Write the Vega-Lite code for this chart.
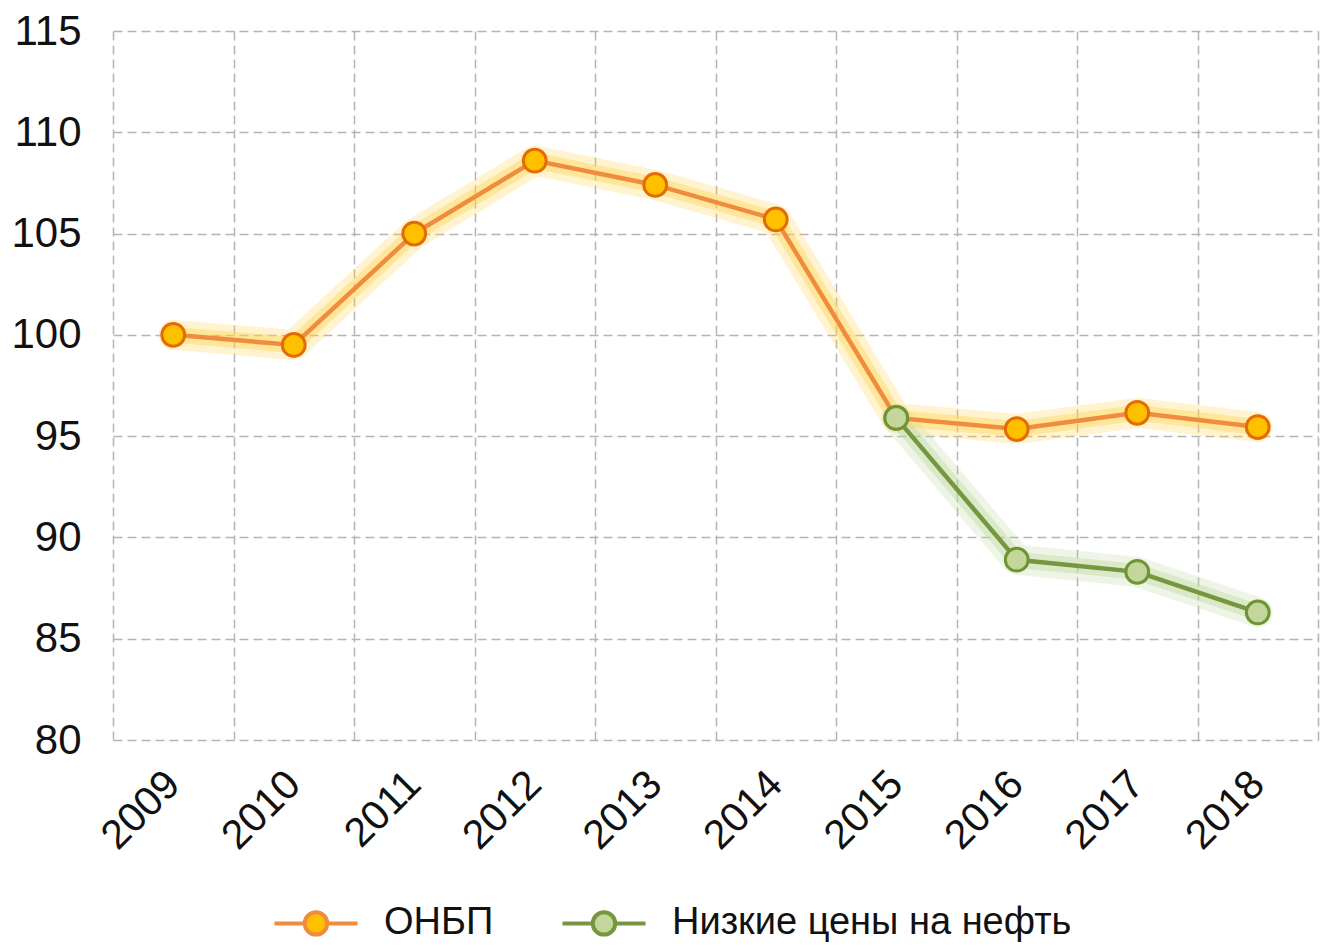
{
  "$schema": "https://vega.github.io/schema/vega-lite/v6.json",
  "autosize": "none",
  "width": 1205,
  "height": 709,
  "padding": {"left": 113, "top": 31, "right": 4, "bottom": 207},
  "background": "white",
  "config": {
    "view": {"stroke": null},
    "font": "Liberation Sans",
    "axis": {"labelFont": "Liberation Sans", "labelColor": "#111111", "gridColor": "#b5b5b5", "gridDash": [9, 5], "gridWidth": 1.5, "domain": false, "ticks": false}
  },
  "data": {
    "values": [
      {"year": "2009", "series": "ОНБП", "value": 100.0},
      {"year": "2010", "series": "ОНБП", "value": 99.5},
      {"year": "2011", "series": "ОНБП", "value": 105.0},
      {"year": "2012", "series": "ОНБП", "value": 108.6},
      {"year": "2013", "series": "ОНБП", "value": 107.4},
      {"year": "2014", "series": "ОНБП", "value": 105.7},
      {"year": "2015", "series": "ОНБП", "value": 95.9},
      {"year": "2016", "series": "ОНБП", "value": 95.35},
      {"year": "2017", "series": "ОНБП", "value": 96.15},
      {"year": "2018", "series": "ОНБП", "value": 95.45},
      {"year": "2015", "series": "Низкие цены на нефть", "value": 95.9},
      {"year": "2016", "series": "Низкие цены на нефть", "value": 88.9},
      {"year": "2017", "series": "Низкие цены на нефть", "value": 88.3},
      {"year": "2018", "series": "Низкие цены на нефть", "value": 86.3}
    ]
  },
  "encoding": {
    "x": {
      "field": "year", "type": "ordinal", "title": null,
      "scale": {"paddingInner": 0, "paddingOuter": 0},
      "axis": {"labelAngle": -45, "labelFontSize": 41, "labelPadding": 38, "tickBand": "extent", "grid": true, "labelAlign": "right", "labelBaseline": "middle"}
    },
    "y": {
      "field": "value", "type": "quantitative", "title": null,
      "scale": {"domain": [80, 115], "nice": false, "zero": false},
      "axis": {"values": [80, 85, 90, 95, 100, 105, 110, 115], "labelFontSize": 42, "labelPadding": 32, "grid": true}
    }
  },
  "layer": [
    {
      "mark": {"type": "line", "strokeWidth": 30, "opacity": 0.25, "strokeCap": "round", "strokeJoin": "round"},
      "encoding": {
        "detail": {"field": "series"},
        "color": {"condition": {"test": "datum.series == 'ОНБП'", "value": "#ffd23f"}, "value": "#bcd89a"}
      }
    },
    {
      "mark": {"type": "line", "strokeWidth": 16, "opacity": 0.4, "strokeCap": "round", "strokeJoin": "round"},
      "encoding": {
        "detail": {"field": "series"},
        "color": {"condition": {"test": "datum.series == 'ОНБП'", "value": "#ffd34a"}, "value": "#bcd89a"}
      }
    },
    {
      "mark": {"type": "line", "strokeWidth": 4.5},
      "encoding": {
        "color": {
          "field": "series", "type": "nominal",
          "scale": {"domain": ["ОНБП", "Низкие цены на нефть"], "range": ["#ef8c3e", "#76973f"]},
          "legend": {
            "title": null, "orient": "none", "legendX": 159, "legendY": 848, "direction": "horizontal",
            "labelFontSize": 38, "labelColor": "#111111", "labelOffset": 24, "columnPadding": 60, "labelLimit": 0,
            "symbolType": "M-1,0L-0.27,0M0.27,0L1,0M-0.27,0A0.27,0.27,0,1,1,0.27,0A0.27,0.27,0,1,1,-0.27,0Z",
            "symbolSize": 6900, "symbolStrokeWidth": 4,
            "encode": {
              "symbols": {"update": {"fill": {"signal": "datum.value == 'ОНБП' ? '#ffc000' : '#c3d69b'"}, "fillOpacity": {"value": 1}}}
            }
          }
        }
      }
    },
    {
      "mark": {"type": "point", "filled": true, "size": 520, "strokeWidth": 3, "opacity": 1},
      "encoding": {
        "fill": {"condition": {"test": "datum.series == 'ОНБП'", "value": "#ffc000"}, "value": "#c3d69b"},
        "stroke": {"condition": {"test": "datum.series == 'ОНБП'", "value": "#e36c09"}, "value": "#6f9433"}
      }
    }
  ]
}
